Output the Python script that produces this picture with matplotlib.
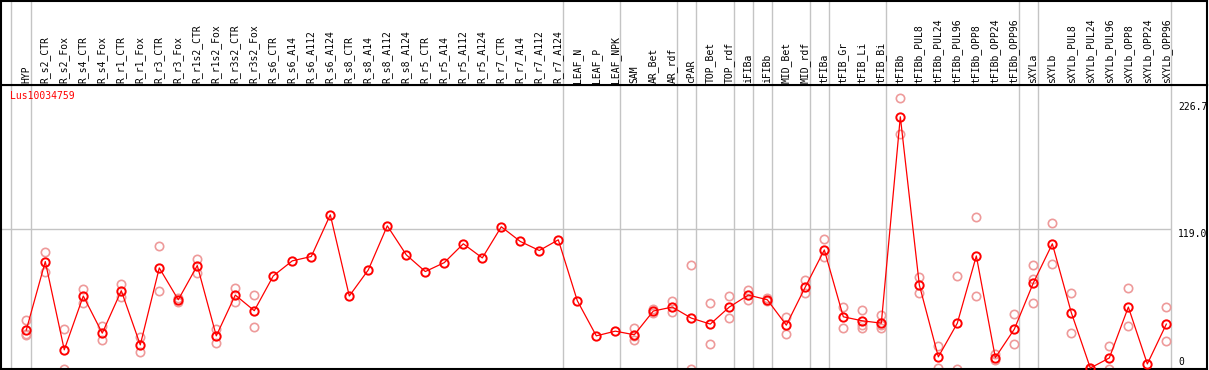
import numpy as np
import matplotlib
matplotlib.use("Agg")
import matplotlib.pyplot as plt

# sample names, left to right
samples = ["HYP", "R_s2_CTR", "R_s2_Fox", "R_s4_CTR", "R_s4_Fox", "R_r1_CTR", "R_r1_Fox",
           "R_r3_CTR", "R_r3_Fox", "R_r1s2_CTR", "R_r1s2_Fox", "R_r3s2_CTR", "R_r3s2_Fox",
           "R_s6_CTR", "R_s6_A14", "R_s6_A112", "R_s6_A124", "R_s8_CTR", "R_s8_A14",
           "R_s8_A112", "R_s8_A124", "R_r5_CTR", "R_r5_A14", "R_r5_A112", "R_r5_A124",
           "R_r7_CTR", "R_r7_A14", "R_r7_A112", "R_r7_A124", "LEAF_N", "LEAF_P", "LEAF_NPK",
           "SAM", "AR_Bet", "AR_rdf", "cPAR", "TOP_Bet", "TOP_rdf", "iFIBa", "iFIBb",
           "MID_Bet", "MID_rdf", "tFIBa", "tFIB_Gr", "tFIB_Li", "tFIB_Bi", "tFIBb",
           "tFIBb_PUL8", "tFIBb_PUL24", "tFIBb_PUL96", "tFIBb_OPP8", "tFIBb_OPP24",
           "tFIBb_OPP96", "sXYLa", "sXYLb", "sXYLb_PUL8", "sXYLb_PUL24", "sXYLb_PUL96",
           "sXYLb_OPP8", "sXYLb_OPP24", "sXYLb_OPP96"]

# mean expression per sample
means = [32.8, 91.1, 16.0, 61.8, 30.2, 66.3, 20.2, 85.7, 58.6, 87.7, 27.9, 62.6, 49.3,
         78.9, 91.7, 95.4, 130.9, 61.8, 84.0, 121.5, 96.8, 82.6, 90.2, 106.2, 94.2,
         120.7, 108.2, 100.5, 109.6, 57.8, 27.9, 31.9,
         28.8, 49.0, 52.4, 43.0, 37.9, 52.4, 62.6, 58.6, 37.0, 69.5, 101.0, 44.1, 40.7, 38.7,
         214.3, 71.2, 10.0, 38.7, 95.9, 9.4, 33.6, 72.9, 106.2, 47.6, 0.5, 9.1, 52.4, 4.0, 37.9]

# individual replicates (empty where none is visible)
replicates = [[41.3, 29.3, 28.5], [99.6, 82.5], [33.6, 0.0], [68.0, 55.5], [35.9, 24.2],
              [72.3, 60.6], [26.5, 14.5], [104.7, 66.0], [60.0, 56.7], [93.4, 81.4],
              [33.6, 21.4], [68.6, 56.4], [62.6, 35.6],
              [], [], [], [], [], [], [], [], [], [], [], [], [], [], [], [], [], [], [],
              [34.2, 27.6, 24.5], [50.5, 47.5], [57.2, 48.1], [88.5, 0.0], [55.8, 20.8],
              [61.8, 43.3], [66.9, 58.4], [60.0, 57.2], [44.1, 29.1], [75.7, 64.3],
              [110.4, 95.4], [52.4, 34.5], [49.8, 37.4, 34.5], [45.8, 37.0, 34.5],
              [230.0, 199.2], [78.0, 64.3], [19.1, 0.6], [78.9, 0.0], [129.2, 61.8],
              [12.3, 7.1], [46.4, 20.8], [88.2, 76.3, 55.8], [124.1, 89.1], [64.3, 30.2],
              [0.0, 0.0], [19.1, 0.0], [68.6, 36.2], [], [52.4, 23.4]]

# last sample index of each tissue group
group_ends = [0, 28, 31, 34, 35, 37, 38, 39, 41, 42, 45, 52, 53, 60]

gene = "Lus10034759"
y_max = 226.7
y_mid = 119.0

W, H = 1209, 370
fig = plt.figure(figsize=(W / 100, H / 100), dpi=100)
ax = fig.add_axes([1 / W, 1 / H, 1206 / W, 284 / H])
hx = fig.add_axes([1 / W, 285 / H, 1206 / W, 84.5 / H], sharex=ax)

font = "DejaVu Sans Mono"
x = np.arange(len(samples))
grey = "#c4c4c4"

for a in (ax, hx):
    for s in a.spines.values():
        s.set_linewidth(1.5)
        s.set_color("black")
    a.tick_params(left=False, bottom=False, labelleft=False, labelbottom=False)

hx.set_ylim(0, 1)
for i, name in enumerate(samples):
    hx.text(i, 0.025, name, rotation=90, ha="center", va="bottom",
            fontsize=7, family=font)

seps = [-0.82] + [g + 0.23 for g in group_ends]
for sx in seps:
    ax.axvline(sx, color=grey, lw=1, zorder=0)
    hx.axvline(sx, color=grey, lw=1, zorder=0)

ax.hlines(y_mid, -2, seps[-1], color=grey, lw=1, zorder=0)

rx = [i for i, r in enumerate(replicates) for _ in r]
ry = [v for r in replicates for v in r]
ax.plot(rx, ry, "o", ls="none", mfc="none", mec="#ee9a9a", ms=6, mew=1.2, zorder=2)
ax.plot(x, means, "-", color="red", lw=0.9, zorder=3)
ax.plot(x, means, "o", ls="none", mfc="none", mec="red", ms=6, mew=1.4, zorder=4)

ax.set_xlim(-1.33, 62.14)
ax.set_ylim(-0.3, 241.3)

lx = seps[-1] + 0.4
ax.text(lx, y_max, f"{y_max:.1f}", ha="left", va="top", fontsize=7, family=font)
ax.text(lx, y_mid, f"{y_mid:.1f}", ha="left", va="top", fontsize=7, family=font)
ax.text(lx, 1.5, "0", ha="left", va="bottom", fontsize=7, family=font)

ax.text(9 / 1206, 1 - 6 / 284, gene, transform=ax.transAxes, ha="left", va="top",
        color="red", fontsize=7, family=font)

fig.savefig("out.png", dpi=100)
